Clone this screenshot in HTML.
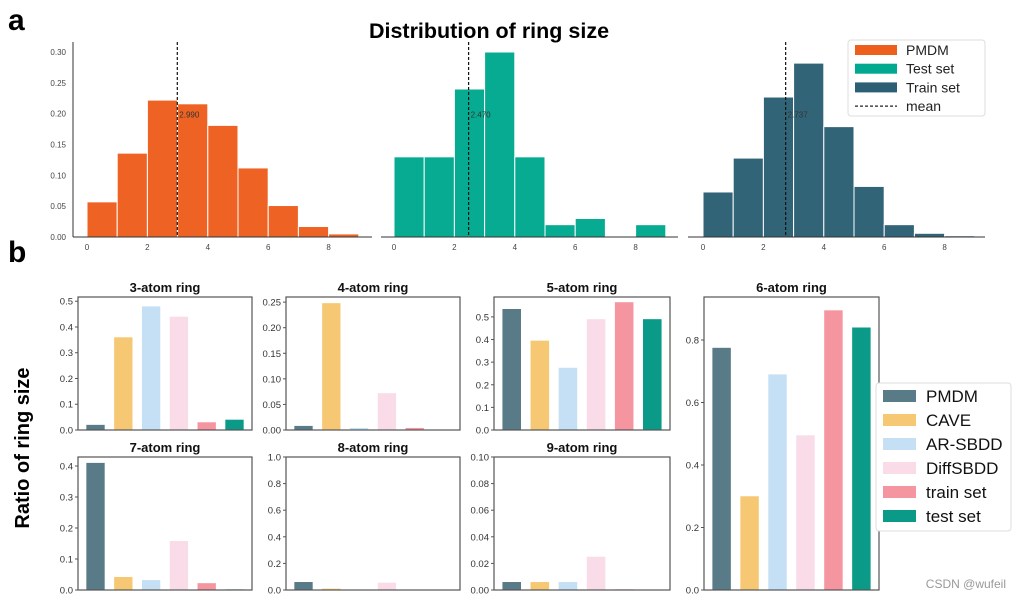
<!DOCTYPE html>
<html><head><meta charset="utf-8"><style>
body{margin:0;background:#fff}svg{display:block;font-family:"Liberation Sans","DejaVu Sans",sans-serif}
</style></head><body>
<svg id="c" width="1016" height="598" viewBox="0 0 1016 598">
<text x="8" y="30" font-size="30" font-weight="bold">a</text>
<text x="8" y="262" font-size="30" font-weight="bold">b</text>
<text x="489" y="38" font-size="21.5" font-weight="bold" text-anchor="middle">Distribution of ring size</text>
<text transform="translate(29,448) rotate(-90)" font-size="20" font-weight="bold" text-anchor="middle">Ratio of ring size</text>
<text x="1006" y="588" font-size="12" fill="#999" text-anchor="end">CSDN @wufeil</text>
</svg>
<script>
const NS="http://www.w3.org/2000/svg";
const svg=document.getElementById('c');
function mk(t,a,p){const e=document.createElementNS(NS,t);for(const k in a)e.setAttribute(k,a[k]);(p||svg).appendChild(e);return e;}

// ---- Top histograms data ----
const histBins=[0,1,2,3,4,5,6,7,8];
const pmdmHist=[0.057,0.136,0.222,0.216,0.181,0.112,0.051,0.017,0.005];
const testHist=[0.13,0.13,0.24,0.30,0.13,0.02,0.03,0,0.02];
const trainHist=[0.073,0.128,0.227,0.282,0.179,0.082,0.02,0.006,0.002];
const histMeans=[2.990,2.470,2.737];
const histXTicks=[0,2,4,6,8];
const histYTicks=[0,0.05,0.10,0.15,0.20,0.25,0.30];
const histNames=["PMDM","Test set","Train set"];
const histColors=["#ee5e1c","#00a98f","#2c5f74"];

const histPanels=[{x0:87,ax0:73,ax1:372,left:true},{x0:394,ax0:381,ax1:678},{x0:703,ax0:688,ax1:985}];
const hBase=237, hTop=52; // y for 0 and 0.30
const hy=v=>hBase-(v/0.30)*(hBase-hTop);
[pmdmHist,testHist,trainHist].forEach((vals,i)=>{
  const P=histPanels[i];const hx=v=>P.x0+v*30.2;
  const g=mk('g',{});
  
  
  vals.forEach((v,j)=>{if(v<=0)return;
    const r=mk('rect',{x:hx(histBins[j]),y:hy(v),width:hx(1)-hx(0),height:hBase-hy(v),fill:histColors[i],stroke:'#fff','stroke-width':1,opacity:0.97},g);
    
    
  });
  mk('line',{x1:P.ax0,x2:P.ax1,y1:hBase,y2:hBase,stroke:'#333','stroke-width':1},g);
  if(P.left){mk('line',{x1:P.ax0,x2:P.ax0,y1:hBase,y2:42,stroke:'#333','stroke-width':1},g);
    histYTicks.forEach(t=>{const tl=mk('text',{x:P.ax0-7,y:hy(t)+3,'font-size':8,fill:'#444','text-anchor':'end'},g);tl.textContent=t.toFixed(2);});}
  histXTicks.forEach(t=>{const tl=mk('text',{x:hx(t),y:hBase+13,'font-size':8,fill:'#444','text-anchor':'middle'},g);tl.textContent=t;});
  const mx=hx(histMeans[i]);
  const ml=mk('line',{x1:mx,x2:mx,y1:42,y2:hBase,stroke:'#111','stroke-width':1.2,'stroke-dasharray':'3,2'},g);
  
  
  const mt=mk('text',{x:mx+2,y:hy(0.20)+4,'font-size':8,fill:'#333'},g);mt.textContent=histMeans[i].toFixed(3);
});
// top legend
{const g=mk('g',{});
mk('rect',{x:848,y:40,width:137,height:76,rx:3,fill:'#fff',stroke:'#ddd'},g);
const labs=["PMDM","Test set","Train set","mean"];
labs.forEach((l,i)=>{const y=50+i*18.7;
  if(i<3)mk('rect',{x:855,y:y-5,width:42,height:10,fill:histColors[i]},g);
  else mk('line',{x1:855,x2:897,y1:y,y2:y,stroke:'#222','stroke-dasharray':'3,2','stroke-width':1.2},g);
  const t=mk('text',{x:906,y:y+5,'font-size':14,fill:'#222'},g);t.textContent=l;
  });}

// ---- Bottom bar charts data ----
const methods=["PMDM","CAVE","AR-SBDD","DiffSBDD","train set","test set"];
const methodColors=["#587b87","#f7c873","#c5e0f4","#f9dce8","#f4959f","#0b9a87"];
const ring3=[0.02,0.36,0.48,0.44,0.03,0.04];
const ring4=[0.008,0.248,0.004,0.072,0.004,0];
const ring5=[0.535,0.395,0.275,0.49,0.565,0.49];
const ring6=[0.775,0.30,0.69,0.495,0.895,0.84];
const ring7=[0.41,0.042,0.032,0.158,0.022,0.002];
const ring8=[0.06,0.01,0.002,0.055,0,0];
const ring9=[0.006,0.006,0.006,0.025,0.0005,0.0003];
const ticks3=[0,0.1,0.2,0.3,0.4,0.5];
const ticks4=[0,0.05,0.10,0.15,0.20,0.25];
const ticks5=[0,0.1,0.2,0.3,0.4,0.5];
const ticks6=[0,0.2,0.4,0.6,0.8];
const ticks7=[0,0.1,0.2,0.3,0.4];
const ticks8=[0,0.2,0.4,0.6,0.8,1.0];
const ticks9=[0,0.02,0.04,0.06,0.08,0.10];

const panels=[
 {t:"3-atom ring",v:ring3,tk:ticks3,d:1,x0:78,x1:252,y0:297,y1:430,ymax:0.5165},
 {t:"4-atom ring",v:ring4,tk:ticks4,d:2,x0:286,x1:460,y0:297,y1:430,ymax:0.26},
 {t:"5-atom ring",v:ring5,tk:ticks5,d:1,x0:494,x1:670,y0:297,y1:430,ymax:0.588},
 {t:"6-atom ring",v:ring6,tk:ticks6,d:1,x0:704,x1:879,y0:297,y1:590,ymax:0.9376},
 {t:"7-atom ring",v:ring7,tk:ticks7,d:1,x0:78,x1:252,y0:457,y1:590,ymax:0.429},
 {t:"8-atom ring",v:ring8,tk:ticks8,d:1,x0:286,x1:460,y0:457,y1:590,ymax:1.0},
 {t:"9-atom ring",v:ring9,tk:ticks9,d:2,x0:494,x1:670,y0:457,y1:590,ymax:0.10}];
panels.forEach(p=>{
  const g=mk('g',{});
  
  
  const xs=i=>p.x0+(i+0.63)/6.26*(p.x1-p.x0);
  const ys=v=>p.y1-v/p.ymax*(p.y1-p.y0);
  const bw=0.66/6.26*(p.x1-p.x0);
  p.v.forEach((v,i)=>{const r=mk('rect',{x:xs(i)-bw/2,y:ys(v),width:bw,height:p.y1-ys(v),fill:methodColors[i]},g);
    
    });
  mk('rect',{x:p.x0,y:p.y0,width:p.x1-p.x0,height:p.y1-p.y0,fill:'none',stroke:'#555','stroke-width':1.2},g);
  p.tk.forEach(t=>{const y=ys(t);mk('line',{x1:p.x0-3,x2:p.x0,y1:y,y2:y,stroke:'#555'},g);
    const tl=mk('text',{x:p.x0-5,y:y+3.5,'font-size':9.5,fill:'#333','text-anchor':'end'},g);tl.textContent=t.toFixed(p.d);});
  const tt=mk('text',{x:(p.x0+p.x1)/2,y:p.y0-5,'font-size':13,'font-weight':'bold','text-anchor':'middle',fill:'#111'},g);tt.textContent=p.t;
});
// bottom legend
{const g=mk('g',{});
mk('rect',{x:876,y:383,width:135,height:148,rx:3,fill:'#fff',stroke:'#ddd'},g);
methods.forEach((m,i)=>{const y=396+i*24;
  mk('rect',{x:883,y:y-6,width:33,height:12,fill:methodColors[i]},g);
  const t=mk('text',{x:926,y:y+6,'font-size':17,fill:'#111'},g);t.textContent=m;
  });}
</script>
</body></html>
